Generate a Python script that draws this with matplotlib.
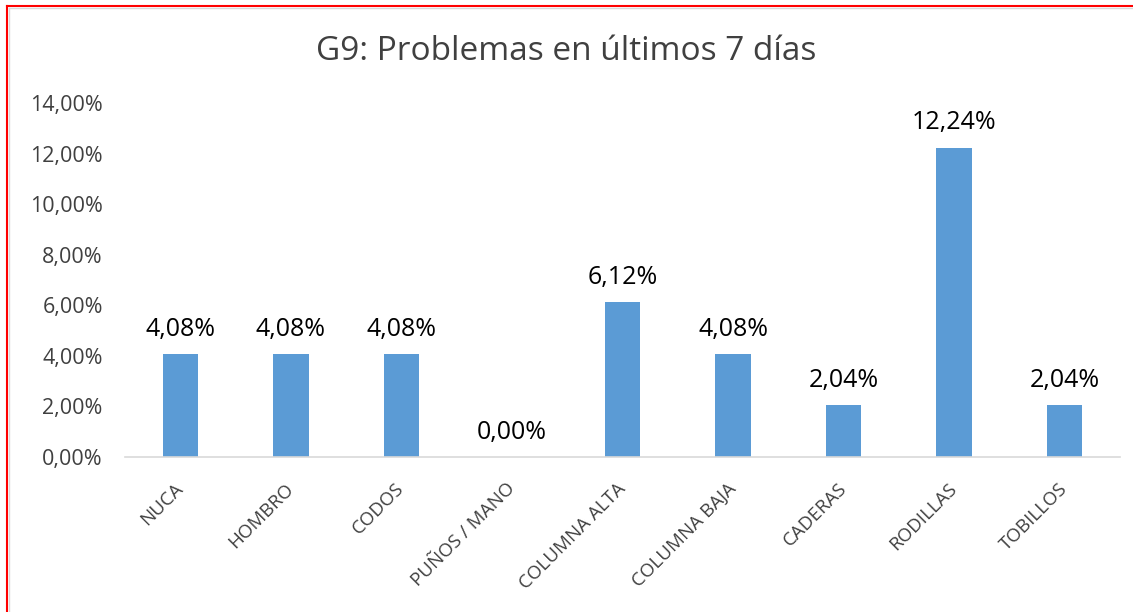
import matplotlib.pyplot as plt
from matplotlib.lines import Line2D

categories = ["NUCA", "HOMBRO", "CODOS", "PUÑOS / MANO", "COLUMNA ALTA",
              "COLUMNA BAJA", "CADERAS", "RODILLAS", "TOBILLOS"]
values = [4.08, 4.08, 4.08, 0.00, 6.12, 4.08, 2.04, 12.24, 2.04]
y_ticks = [0, 2, 4, 6, 8, 10, 12, 14]

plt.rcParams['font.family'] = ['Open Sans', 'DejaVu Sans']

fig = plt.figure(figsize=(11.33, 6.12), dpi=100)
ax = fig.add_axes([125 / 1133, 1 - 457 / 612, 995 / 1133, 354 / 612])

x = range(len(categories))
bars = ax.bar(x, values, width=0.32, color="#5B9BD5")

for xi, v in zip(x, values):
    ax.text(xi, v + 0.48, f"{v:.2f}%".replace(".", ","), ha="center",
            va="bottom", fontsize=18, color="black")

ax.set_xlim(-0.5, len(categories) - 0.5)
ax.set_ylim(0, 14)
ax.set_yticks(y_ticks)
ax.set_yticklabels([f"{t:.2f}%".replace(".", ",") for t in y_ticks],
                   fontsize=15.5, color="#404040")
ax.set_xticks(list(x))
ax.set_xticklabels(categories, rotation=45, ha="right", va="center",
                   rotation_mode="anchor", fontsize=13.5, color="#404040")
ax.tick_params(axis="both", length=0)
ax.tick_params(axis="y", pad=16)
ax.tick_params(axis="x", pad=21)

for side in ["top", "right", "left"]:
    ax.spines[side].set_visible(False)
ax.spines["bottom"].set_color("#D9D9D9")
ax.spines["bottom"].set_linewidth(1.2)

fig.text(0.5, 1 - 52 / 612, "G9: Problemas en últimos 7 días", ha="center",
         va="center", fontsize=24, color="#404040")

# red frame (top and left edges)
fig.add_artist(Line2D([7 / 1133, 1], [1 - 6 / 612, 1 - 6 / 612],
                      transform=fig.transFigure, color="red", lw=1.5))
fig.add_artist(Line2D([7 / 1133, 7 / 1133], [0, 1 - 6 / 612],
                      transform=fig.transFigure, color="red", lw=1.5))
fig.add_artist(Line2D([9 / 1133, 1], [1 - 8 / 612, 1 - 8 / 612],
                      transform=fig.transFigure, color="#D9D9D9", lw=1))
fig.add_artist(Line2D([9 / 1133, 9 / 1133], [0, 1 - 8 / 612],
                      transform=fig.transFigure, color="#D9D9D9", lw=1))

fig.savefig("out.png", dpi=100)
